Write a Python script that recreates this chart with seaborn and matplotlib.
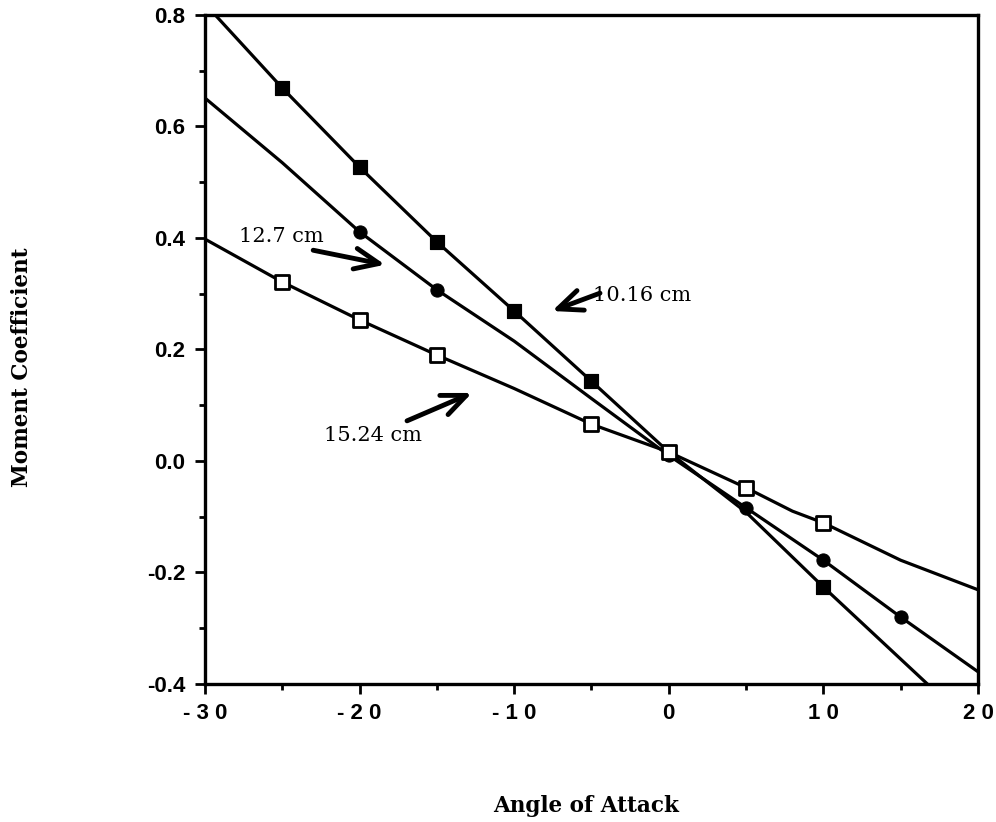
import numpy as np
import pandas as pd
import matplotlib
matplotlib.use("Agg")
import matplotlib.pyplot as plt
import seaborn as sns
from matplotlib.ticker import MultipleLocator

# points mesures (marqueurs)
x_1016 = [-25, -20, -15, -10, -5, 0, 10]
y_1016 = [0.669, 0.527, 0.393, 0.269, 0.143, 0.016, -0.226]
x_127 = [-20, -15, 0, 5, 10, 15]
y_127 = [0.411, 0.307, 0.010, -0.084, -0.178, -0.280]
x_1524 = [-25, -20, -15, -5, 0, 5, 10]
y_1524 = [0.321, 0.253, 0.190, 0.066, 0.016, -0.048, -0.111]

# courbes lissees
cx_1016 = [-30, -25, -20, -15, -10, -5, 0, 5, 10, 17.5]
cy_1016 = [0.82, 0.669, 0.527, 0.393, 0.269, 0.143, 0.016, -0.092, -0.226, -0.42]
cx_127 = [-30, -25, -20, -15, -10, -5, 0, 5, 10, 15, 20]
cy_127 = [0.651, 0.535, 0.411, 0.307, 0.215, 0.112, 0.010, -0.084, -0.178, -0.280, -0.378]
cx_1524 = [-30, -25, -20, -15, -10, -5, 0, 5, 8, 10, 15, 20]
cy_1524 = [0.398, 0.321, 0.253, 0.190, 0.130, 0.066, 0.016, -0.048, -0.090, -0.111, -0.178, -0.231]

x_ticks = [-30, -20, -10, 0, 10, 20]
y_ticks = [-0.4, -0.2, 0.0, 0.2, 0.4, 0.6, 0.8]

sns.set_theme(style="white")
plt.rcParams['font.family'] = ['Liberation Sans', 'DejaVu Sans']
plt.rcParams['text.color'] = 'black'
plt.rcParams['xtick.color'] = 'black'
plt.rcParams['ytick.color'] = 'black'

fig = plt.figure(figsize=(9.96, 8.22), dpi=100)
ax = fig.add_axes([0.2058, 0.1679, 0.7761, 0.8139])

for cx, cy in [(cx_1016, cy_1016), (cx_127, cy_127), (cx_1524, cy_1524)]:
    sns.lineplot(x=cx, y=cy, ax=ax, color="black", linewidth=2.3, sort=False,
                 estimator=None)

sns.scatterplot(x=x_1016, y=y_1016, ax=ax, marker="s", s=110, color="black",
                edgecolor="black", zorder=3)
sns.scatterplot(x=x_127, y=y_127, ax=ax, marker="o", s=90, color="black",
                edgecolor="black", zorder=3)
sns.scatterplot(x=x_1524, y=y_1524, ax=ax, marker="s", s=90, color="white",
                edgecolor="black", linewidth=2, zorder=3)

ax.set_xlim(-30, 20)
ax.set_ylim(-0.4, 0.8)
ax.set_xticks(x_ticks)
ax.set_xticklabels([" ".join(str(v)) for v in x_ticks], fontsize=16, fontweight="bold")
ax.set_yticks(y_ticks)
ax.set_yticklabels([f"{v:.1f}" for v in y_ticks], fontsize=16, fontweight="bold")
ax.xaxis.set_minor_locator(MultipleLocator(5))
ax.yaxis.set_minor_locator(MultipleLocator(0.1))
ax.tick_params(which="major", direction="out", length=7, width=2, color="black",
               labelcolor="black", bottom=True, left=True, pad=7)
ax.tick_params(which="minor", direction="out", length=4, width=2, color="black",
               bottom=True, left=True)
for s in ax.spines.values():
    s.set_linewidth(2.4)
    s.set_color("black")

serif = ['DejaVu Serif']
fig.text(0.022, 0.553, "Moment Coefficient", rotation=90, ha="center", va="center",
         fontsize=15.5, fontweight="bold", family=serif, color="black")
fig.text(0.588, 0.019, "Angle of Attack", ha="center", va="center",
         fontsize=15.5, fontweight="bold", family=serif, color="black")


def fleche(x0, y0, x1, y1):
    ax.annotate("", xy=(x1, y1), xytext=(x0, y0),
                arrowprops=dict(arrowstyle="->,head_length=0.7,head_width=0.3",
                                color="black", lw=3.5, shrinkA=0, shrinkB=0,
                                mutation_scale=25))


fleche(-23.0, 0.378, -18.35, 0.352)
fleche(-4.45, 0.301, -7.55, 0.269)
fleche(-16.93, 0.072, -12.73, 0.122)

ax.text(-27.8, 0.403, "12.7 cm", fontsize=15, family=serif, va="center", ha="left",
        color="black")
ax.text(-4.9, 0.296, "10.16 cm", fontsize=15, family=serif, va="center", ha="left",
        color="black")
ax.text(-22.3, 0.045, "15.24 cm", fontsize=15, family=serif, va="center", ha="left",
        color="black")

fig.savefig("out.png", dpi=100, facecolor="white")
